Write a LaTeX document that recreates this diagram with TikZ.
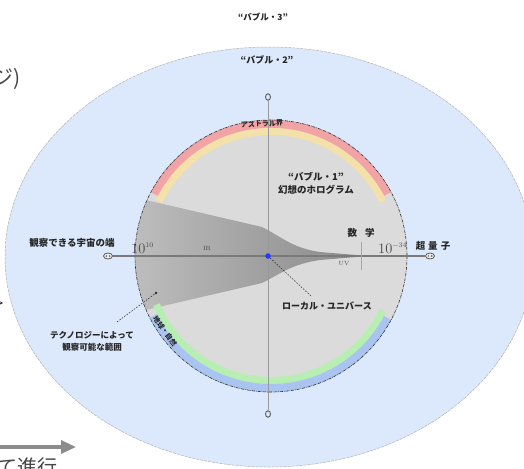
\documentclass[tikz,border=0pt]{standalone}
\usepackage{fontspec}
\newfontfamily\jp{Noto Sans CJK JP}
\usetikzlibrary{arrows.meta,shapes.geometric}
\definecolor{bgblue}{HTML}{DCE8FB}
\definecolor{diskgray}{HTML}{DBDBDB}
\definecolor{astral}{HTML}{F2A3A6}
\definecolor{yel}{HTML}{F4E0A9}
\definecolor{grn}{HTML}{B7EFB2}
\definecolor{blu}{HTML}{A9C4F0}
\definecolor{fun1}{HTML}{C0C0C0}
\definecolor{fun2}{HTML}{8A8A8A}
\definecolor{axisc}{HTML}{7A7A7A}
\definecolor{txt}{HTML}{262626}
\definecolor{numc}{HTML}{4A4A4A}
\definecolor{dotblue}{HTML}{1E3CFF}
\begin{document}
\begin{tikzpicture}[x=1pt,y=-1pt,
  lab/.style={font=\jp\bfseries\fontsize{9}{9}\selectfont, text=txt, inner sep=0pt},
  smalllab/.style={font=\jp\bfseries\fontsize{7}{7}\selectfont, text=txt, inner sep=0pt},
  numlab/.style={font=\fontsize{14.5}{14.5}\selectfont, text=numc, inner sep=0pt},
  tinylab/.style={font=\fontsize{6}{6}\selectfont, text=numc, inner sep=0pt},
  eyemark/.style={ellipse, draw=gray!60!black, fill=gray!15, line width=0.7pt,
     minimum width=9pt, minimum height=6pt, inner sep=0pt,
     path picture={\fill[gray!60!black] ([xshift=-1.7pt]path picture bounding box.center) circle[radius=0.8pt]
        ([xshift=1.7pt]path picture bounding box.center) circle[radius=0.8pt];}},
  omark/.style={ellipse, draw=gray!70!black, line width=0.9pt, minimum width=5pt, minimum height=6.5pt, inner sep=0pt},
  axisline/.style={draw=axisc, line width=1.1pt},
  vaxis/.style={draw=gray!80, line width=0.6pt},
  ptr/.style={draw=gray!40!black, line width=0.6pt, dash pattern=on 1.5pt off 1.5pt},
  rim/.style={draw=gray!40!black, line width=0.6pt, dash pattern=on 3pt off 1pt on 0.6pt off 1pt},
  bigtxt/.style={font=\jp\fontsize{20}{20}\selectfont, text=txt!85, inner sep=0pt}
]
\useasboundingbox (0,0) rectangle (524,468);
\clip (0,0) rectangle (524,468);
\fill[white] (0,0) rectangle (524,468);
% bubble 2
\path[fill=bgblue, draw=gray!60, dash pattern=on 3pt off 1pt, line width=0.5pt] (269,257) ellipse [x radius=264, y radius=210];
% bubble 1
\coordinate (C) at (271,256);
\fill[diskgray] (C) circle[radius=136];
\begin{scope}
  \clip (C) circle[radius=136];
  \shade[left color=fun1, right color=fun2] (120,194) -- (262,227) .. controls (282,237) and (292,248) .. (320,252) -- (362,255.5)
     -- (362,256.5) -- (320,260) .. controls (292,264) and (282,273) .. (262,283) -- (120,316) -- cycle;
\end{scope}
% bands (visual angle = - theta)
\fill[astral] ([shift={(-152:136)}]C) arc[start angle=-152, end angle=-28, radius=136] -- ([shift={(-28:128)}]C) arc[start angle=-28, end angle=-152, radius=128] -- cycle;
\fill[yel] ([shift={(-154:128)}]C) arc[start angle=-154, end angle=-26, radius=128] -- ([shift={(-26:121)}]C) arc[start angle=-26, end angle=-154, radius=121] -- cycle;
\fill[grn] ([shift={(157:121)}]C) arc[start angle=157, end angle=26, radius=121] -- ([shift={(26:128)}]C) arc[start angle=26, end angle=157, radius=128] -- cycle;
\fill[blu] ([shift={(153:128)}]C) arc[start angle=153, end angle=28, radius=128] -- ([shift={(28:136)}]C) arc[start angle=28, end angle=153, radius=136] -- cycle;
\draw[rim] (C) circle[radius=136];
% band labels
\node[smalllab, rotate=3] (astl) at (262,124) {アストラル界};
\node[smalllab, rotate=-54] (earth) at (165,331) {地球・自然};
% axes
\node[eyemark] (hl) at (108,256) {};
\node[eyemark] (hr) at (430,256) {};
\node[omark] (vt) at (268,97) {};
\node[omark] (vb) at (268,414) {};
\draw[vaxis] (vt.south) -- (vb.north);
\draw[axisline] (hl.east) -- (hr.west);
\coordinate (tickt) at (361,242);
\coordinate (tickb) at (361,270);
\draw[gray!70, line width=0.6pt] (tickt) -- (tickb);
\node[circle, fill=dotblue, minimum size=5.5pt, inner sep=0pt] (dot) at (268,256) {};
% labels
\node[lab, font=\jp\bfseries\fontsize{8.5}{8.5}\selectfont] (b3) at (263,17) {“バブル・3”};
\node[lab] (b2) at (267,60) {“バブル・2”};
\node[lab, font=\jp\bfseries\fontsize{9.5}{13}\selectfont, align=center] (b1) at (316,183.5) {“バブル・1”\\幻想のホログラム};
\node[lab, font=\jp\bfseries\fontsize{9.5}{9.5}\selectfont] (edge) at (72,243) {観察できる宇宙の端};
\node[lab, font=\jp\bfseries\fontsize{9.5}{9.5}\selectfont] (math) at (361,233) {数\hspace{8pt}学};
\node[lab, font=\jp\bfseries\fontsize{9.5}{9.5}\selectfont] (quant) at (433,246) {超\hspace{3pt}量\hspace{3pt}子};
\node[numlab, anchor=base west] (n10) at (131,253) {10$^{\scriptscriptstyle 10}$};
\node[numlab, anchor=base west] (n34) at (378,253) {10$^{\scriptscriptstyle -34}$};
\node[tinylab] (ir) at (207,249) {IR};
\node[tinylab] (uv) at (344,264) {UV};
\node[lab] (local) at (327,306) {ローカル・ユニバース};
\node[lab, font=\jp\bfseries\fontsize{8.5}{12}\selectfont, align=center] (tech) at (92,341) {テクノロジーによって\\観察可能な範囲};
% pointers
\coordinate (lutip) at (311,296);
\draw[ptr] (dot) -- (lutip);
\coordinate (techstart) at (117,322);
\coordinate (techtip) at (156,293);
\draw[ptr] (techstart) -- (techtip);
\fill[gray!30!black] (techtip) circle[radius=1.3pt];
% cut-off items at the left
\node[bigtxt, anchor=east, font=\jp\fontsize{21}{21}\selectfont] (img) at (21,79) {ジ)};
\coordinate (arrL) at (-10,447);
\coordinate (arrR) at (76,447);
\draw[draw=gray!90, line width=3.2pt, -{Triangle[length=15pt,width=13pt]}] (arrL) -- (arrR);
\node[bigtxt, anchor=east] (prog) at (58,467) {て進行};
\coordinate (tipL) at (-6,303);
\coordinate (tipR) at (3,303);
\draw[gray!40!black, line width=0.8pt, -{Stealth[length=3pt,width=3pt]}] (tipL) -- (tipR);
\end{tikzpicture}
\end{document}
